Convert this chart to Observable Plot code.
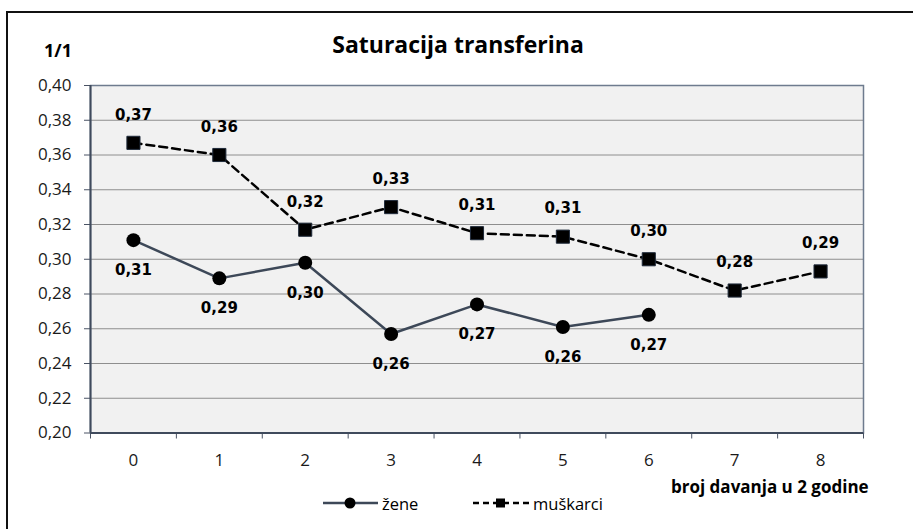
<!DOCTYPE html>
<html>
<head>
<meta charset="utf-8">
<script src="https://cdn.jsdelivr.net/npm/d3@7"></script>
<script src="https://cdn.jsdelivr.net/npm/@observablehq/plot@0.6"></script>
<style>
  html, body { margin: 0; padding: 0; background: #fff; }
  body { width: 913px; height: 529px; position: relative; overflow: hidden; font-family: "Open Sans", sans-serif; }
  #border { position: absolute; left: 6px; top: 11px; width: 1000px; height: 1000px; border-left: 2px solid #111; border-top: 2px solid #111; box-sizing: border-box; z-index: 2; pointer-events: none; }
  #chart { position: absolute; left: 0; top: 0; }
  .title { position: absolute; left: 0; width: 916px; top: 33px; text-align: center; font-size: 23px; line-height: 23px; font-weight: bold; color: #000; }
  .ylab { position: absolute; left: 0; width: 72px; top: 41px; text-align: right; font-size: 18px; line-height: 18px; font-weight: bold; color: #000; }
  .xlab { position: absolute; left: 671px; top: 478px; font-size: 17px; line-height: 17px; font-weight: bold; color: #000; white-space: nowrap; }
  .leg { position: absolute; top: 493px; height: 20px; display: flex; align-items: center; font-size: 16.5px; color: #000; white-space: nowrap; }
  .leg svg { display: block; margin-right: 3px; }
</style>
</head>
<body>
<div id="border"></div>
<div id="chart"></div>
<div class="title">Saturacija transferina</div>
<div class="ylab">1/1</div>
<div class="xlab">broj davanja u 2 godine</div>
<div class="leg" style="left:323px">
  <svg width="56" height="20"><line x1="0" y1="10" x2="55" y2="10" stroke="#3d4858" stroke-width="2.5"/><circle cx="27" cy="10" r="5.5" fill="#000"/></svg><span>žene</span>
</div>
<div class="leg" style="left:473px">
  <svg width="57" height="20"><line x1="0" y1="10" x2="56" y2="10" stroke="#000" stroke-width="2.5" stroke-dasharray="6,4"/><rect x="23" y="5.5" width="9" height="9" fill="#000"/></svg><span>muškarci</span>
</div>
<script>
const categories = [0, 1, 2, 3, 4, 5, 6, 7, 8];
const zeneX = [0, 1, 2, 3, 4, 5, 6];
const zeneY = [0.311, 0.289, 0.298, 0.257, 0.274, 0.261, 0.268];
const zeneLabels = ["0,31", "0,29", "0,30", "0,26", "0,27", "0,26", "0,27"];
const muskX = [0, 1, 2, 3, 4, 5, 6, 7, 8];
const muskY = [0.367, 0.360, 0.317, 0.330, 0.315, 0.313, 0.300, 0.282, 0.293];
const muskLabels = ["0,37", "0,36", "0,32", "0,33", "0,31", "0,31", "0,30", "0,28", "0,29"];
const yTicks = [0.20, 0.22, 0.24, 0.26, 0.28, 0.30, 0.32, 0.34, 0.36, 0.38, 0.40];
const yTickLabels = ["0,20", "0,22", "0,24", "0,26", "0,28", "0,30", "0,32", "0,34", "0,36", "0,38", "0,40"];
const xTickLabels = ["0", "1", "2", "3", "4", "5", "6", "7", "8"];
const xBoundaries = [-0.5, 0.5, 1.5, 2.5, 3.5, 4.5, 5.5, 6.5, 7.5, 8.5];

const zene = zeneX.map((x, i) => ({x, y: zeneY[i], label: zeneLabels[i]}));
const musk = muskX.map((x, i) => ({x, y: muskY[i], label: muskLabels[i]}));
const gridTicks = yTicks.filter(d => d > 0.2 && d < 0.4);

const chart = Plot.plot({
  width: 913,
  height: 529,
  marginLeft: 90,
  marginRight: 50,
  marginTop: 85,
  marginBottom: 96.5,
  style: {background: "transparent", fontFamily: "'Open Sans', sans-serif", overflow: "visible"},
  x: {domain: [-0.5, 8.5]},
  y: {domain: [0.2, 0.4]},
  marks: [
    Plot.frame({fill: "#f1f1f1"}),
    Plot.gridY(gridTicks, {stroke: "#8e8e8e", strokeOpacity: 1, strokeWidth: 1}),
    Plot.frame({stroke: "#6e7b8e", strokeWidth: 1.5}),
    Plot.axisY(yTicks, {
      tickSize: 6, tickPadding: 13, fontSize: 17, label: null,
      stroke: "#4a5364", fill: "#1a1a1a",
      tickFormat: d => yTickLabels[yTicks.indexOf(d)]
    }),
    Plot.axisX(xBoundaries, {tickSize: 6, stroke: "#4a5364", tickFormat: () => "", label: null}),
    Plot.axisX(categories, {
      tickSize: 0, tickPadding: 21, fontSize: 17, label: null, fill: "#1a1a1a",
      tickFormat: d => xTickLabels[categories.indexOf(d)]
    }),
    Plot.ruleX([-0.5], {stroke: "#3f4a5c", strokeWidth: 2}),
    Plot.ruleY([0.2], {stroke: "#3f4a5c", strokeWidth: 2}),
    Plot.line(zene, {x: "x", y: "y", stroke: "#3d4858", strokeWidth: 2.5}),
    Plot.dot(zene, {x: "x", y: "y", r: 7, fill: "#000", symbol: "circle"}),
    Plot.line(musk, {x: "x", y: "y", stroke: "#000", strokeWidth: 2.5, strokeDasharray: "8,5"}),
    Plot.dot(musk, {x: "x", y: "y", r: 7.4, fill: "#000", stroke: "#1f2a3a", strokeWidth: 1, symbol: "square"}),
    Plot.text(zene, {x: "x", y: "y", text: "label", dy: 30, fontSize: 15, fontWeight: "bold", fontFamily: "DejaVu Sans", fill: "#000"}),
    Plot.text(musk, {x: "x", y: "y", text: "label", dy: -28, fontSize: 15, fontWeight: "bold", fontFamily: "DejaVu Sans", fill: "#000"})
  ]
});
document.getElementById("chart").appendChild(chart);
</script>
</body>
</html>
